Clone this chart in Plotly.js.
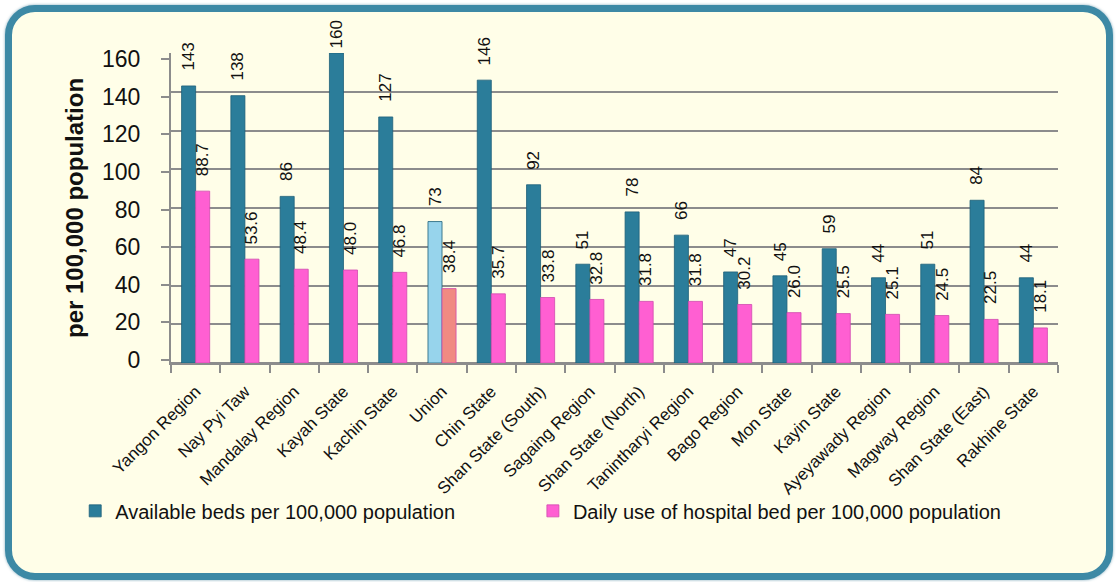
<!DOCTYPE html>
<html>
<head>
<meta charset="utf-8">
<script src="https://cdn.plot.ly/plotly-3.0.1.min.js"></script>
<style>
  html, body { margin: 0; padding: 0; background: #fff; overflow: hidden; }
  #card {
    position: absolute; left: 5px; top: 5px;
    width: 1094px; height: 561px;
    border: 7px solid #3d89a5; border-radius: 30px;
    background: #fffee8;
    box-shadow: 0 0 3px rgba(40,110,140,0.6);
  }
  #chart { position: absolute; left: 0; top: 0; width: 1116px; height: 582px; }
</style>
</head>
<body>
<div id="card"></div>
<div id="chart"></div>
<script>
const regions = [
  "Yangon Region", "Nay Pyi Taw", "Mandalay Region", "Kayah State",
  "Kachin State", "Union", "Chin State", "Shan State (South)",
  "Sagaing Region", "Shan State (North)", "Tanintharyi Region",
  "Bago Region", "Mon State", "Kayin State", "Ayeyawady Region",
  "Magway Region", "Shan State (East)", "Rakhine State"
];
const availableBeds = [143, 138, 86, 160, 127, 73, 146, 92, 51, 78, 66, 47, 45, 59, 44, 51, 84, 44];
const dailyUse = [88.7, 53.6, 48.4, 48.0, 46.8, 38.4, 35.7, 33.8, 32.8, 31.8, 31.8, 30.2, 26.0, 25.5, 25.1, 24.5, 22.5, 18.1];
const yTicks = [0, 20, 40, 60, 80, 100, 120, 140, 160];

const font = "Liberation Sans, Arial, sans-serif";
const grey = "#8c8c8c";
const blue = "#2b7d9a";
const pink = "#ff5fd2";
// Union is drawn lighter
const blueCols = regions.map((r) => (r === "Union" ? "#97d4ec" : blue));
const pinkCols = regions.map((r) => (r === "Union" ? "#f08a82" : pink));

const traces = [
  {
    type: "bar",
    name: "Available beds per 100,000 population",
    x: regions,
    y: availableBeds,
    marker: { color: blueCols, line: { color: "#1d6078", width: 0.8 } },
    legend: "legend",
  },
  {
    type: "bar",
    name: "Daily use of hospital bed per 100,000 population",
    x: regions,
    y: dailyUse,
    marker: { color: pinkCols, line: { color: "#d04aae", width: 0.8 } },
    legend: "legend2",
  },
  // empty helper so the front axis (y2) gets drawn
  {
    type: "scatter",
    mode: "markers",
    x: [regions[0]],
    y: [0],
    yaxis: "y2",
    marker: { opacity: 0 },
    showlegend: false,
    hoverinfo: "skip",
  },
];

// value labels, rotated, a little above each bar
// (the top one is pulled down so it stays inside the chart, like the original)
const annotations = [];
const half = 7;
const lift = (v) => (v >= 155 ? 3 : 13);
regions.forEach((r, i) => {
  annotations.push({
    x: r, y: availableBeds[i], xref: "x", yref: "y",
    text: String(availableBeds[i]), textangle: -90, showarrow: false,
    xanchor: "center", yanchor: "bottom", xshift: -half, yshift: lift(availableBeds[i]),
    font: { family: font, size: 17, color: "#111" },
  });
  annotations.push({
    x: r, y: dailyUse[i], xref: "x", yref: "y",
    text: dailyUse[i].toFixed(1), textangle: -90, showarrow: false,
    xanchor: "center", yanchor: "bottom", xshift: half, yshift: lift(dailyUse[i]),
    font: { family: font, size: 17, color: "#111" },
  });
});

const legendBase = {
  orientation: "h",
  xanchor: "left",
  y: -0.477,
  yanchor: "middle",
  font: { family: font, size: 20, color: "#111" },
  itemwidth: 30,
  bgcolor: "rgba(0,0,0,0)",
};

const layout = {
  width: 1116,
  height: 582,
  margin: { l: 171, r: 58, t: 53, b: 219 },
  paper_bgcolor: "rgba(0,0,0,0)",
  plot_bgcolor: "rgba(0,0,0,0)",
  barmode: "group",
  bargap: 0.43,
  bargroupgap: 0,
  showlegend: true,
  annotations: annotations,
  legend: Object.assign({}, legendBase, { x: -0.108 }),
  legend2: Object.assign({}, legendBase, { x: 0.408 }),
  xaxis: {
    type: "category",
    range: [-0.5, regions.length - 0.5],
    tickangle: -45,
    tickfont: { family: font, size: 17, color: "#111" },
    ticklabelstandoff: 10,
    showline: true,
    linecolor: grey,
    linewidth: 2,
    ticks: "outside",
    ticklen: 8,
    tickcolor: grey,
    tickwidth: 2,
    tickson: "boundaries",
    showgrid: false,
  },
  // bar scale: grid lines only
  yaxis: {
    range: [0, 160],
    tickvals: yTicks,
    showticklabels: false,
    ticks: "",
    showline: false,
    gridcolor: grey,
    gridwidth: 2,
    zeroline: true,
    zerolinecolor: grey,
    zerolinewidth: 2,
  },
  // front axis with the labels, sits a few pixels lower like the 3D front edge
  yaxis2: {
    overlaying: "y",
    side: "left",
    anchor: "x",
    range: [-1.6, 163.2],
    tickvals: yTicks,
    showgrid: false,
    zeroline: false,
    title: {
      text: "<b>per 100,000 population</b>",
      font: { family: font, size: 24, color: "#111" },
      standoff: 12,
    },
    tickfont: { family: font, size: 23, color: "#111" },
    ticks: "outside",
    ticklen: 8,
    tickwidth: 2,
    tickcolor: grey,
    ticklabelstandoff: 16,
    showline: true,
    linecolor: grey,
    linewidth: 2,
  },
};

Plotly.newPlot("chart", traces, layout, { displayModeBar: false, staticPlot: true });
</script>
</body>
</html>
